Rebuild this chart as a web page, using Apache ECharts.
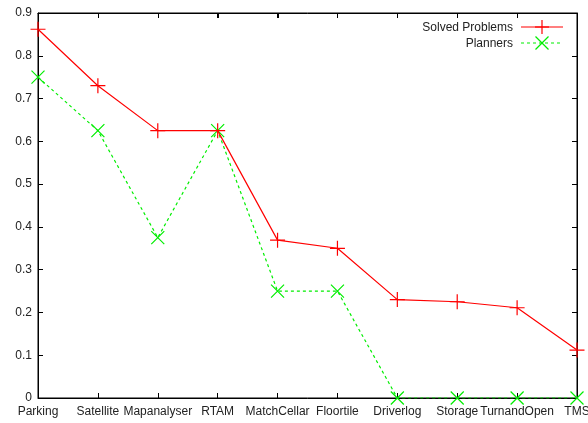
<!DOCTYPE html>
<html><head><meta charset="utf-8">
<script src="https://cdn.jsdelivr.net/npm/echarts@6/dist/echarts.min.js"></script>
<style>html,body{margin:0;padding:0;background:#fff}#c{width:588px;height:423px}</style>
</head><body><div id="c"></div>
<script>
const categories = ["Parking","Satellite","Mapanalyser","RTAM","MatchCellar","Floortile","Driverlog","Storage","TurnandOpen","TMS"];
const solvedProblems = [0.862, 0.73, 0.625, 0.625, 0.369, 0.35, 0.23, 0.225, 0.211, 0.112];
const planners = [0.75, 0.625, 0.375, 0.625, 0.25, 0.25, 0, 0, 0, 0];
const seriesNames = ["Solved Problems", "Planners"];

const RED = '#ff0000', GREEN = '#00ee00';
const plusPath = 'path://M0,-1L0,1M-1,0L1,0';
const crossPath = 'path://M-1,-1L1,1M-1,1L1,-1';
const font = 'Liberation Sans, Arial, sans-serif';

const chart = echarts.init(document.getElementById('c'));
function xAx(pos, showLabel) {
  return {
    type: 'category', data: categories, boundaryGap: false, position: pos,
    axisLine: {show: true, onZero: false, lineStyle: {color: '#000', width: 1}},
    axisTick: {show: true, inside: true, length: 5, interval: 0, lineStyle: {color: '#000'}},
    axisLabel: {color: showLabel ? '#222' : 'rgba(0,0,0,0)', fontSize: 12, fontFamily: font, margin: 8, interval: 0, hideOverlap: false},
    splitLine: {show: false}
  };
}
function yAx(pos, showLabel) {
  return {
    type: 'value', min: 0, max: 0.9, interval: 0.1, position: pos,
    axisLine: {show: true, onZero: false, lineStyle: {color: '#000', width: 1}},
    axisTick: {show: true, inside: true, length: 5, lineStyle: {color: '#000'}},
    axisLabel: {color: showLabel ? '#222' : 'rgba(0,0,0,0)', fontSize: 12, fontFamily: font, margin: 6, formatter: v => String(+v.toFixed(1))},
    splitLine: {show: false}
  };
}
const legendGraphics = [
  {type: 'text', right: 75, top: 22, style: {text: seriesNames[0], fill: '#222', font: '12px ' + font}},
  {type: 'line', shape: {x1: 521, y1: 27, x2: 563, y2: 27}, style: {stroke: RED, lineWidth: 1.2}},
  {type: 'line', shape: {x1: 542, y1: 20, x2: 542, y2: 34}, style: {stroke: RED, lineWidth: 1.2}},
  {type: 'line', shape: {x1: 535, y1: 27, x2: 549, y2: 27}, style: {stroke: RED, lineWidth: 1.2}},
  {type: 'text', right: 75, top: 38, style: {text: seriesNames[1], fill: '#222', font: '12px ' + font}},
  {type: 'line', shape: {x1: 521, y1: 43, x2: 563, y2: 43}, style: {stroke: GREEN, lineWidth: 1.2, lineDash: [3, 3]}},
  {type: 'line', shape: {x1: 535.5, y1: 36.5, x2: 548.5, y2: 49.5}, style: {stroke: GREEN, lineWidth: 1.2}},
  {type: 'line', shape: {x1: 535.5, y1: 49.5, x2: 548.5, y2: 36.5}, style: {stroke: GREEN, lineWidth: 1.2}}
];
chart.setOption({
  animation: false,
  grid: {left: 38, right: 11, top: 13, bottom: 25, outerBoundsMode: 'none', containLabel: false,
         show: true, borderColor: '#000', borderWidth: 1, backgroundColor: 'transparent'},
  xAxis: [xAx('bottom', true), xAx('top', false)],
  yAxis: [yAx('left', true), yAx('right', false)],
  series: [
    {name: seriesNames[0], type: 'line', data: solvedProblems, symbol: plusPath, symbolSize: 15,
     showAllSymbol: true, xAxisIndex: 0, yAxisIndex: 0,
     lineStyle: {color: RED, width: 1.2},
     itemStyle: {color: RED, borderColor: RED, borderWidth: 1.2}, z: 3},
    {name: seriesNames[1], type: 'line', data: planners, symbol: crossPath, symbolSize: 13,
     showAllSymbol: true, xAxisIndex: 1, yAxisIndex: 1,
     lineStyle: {color: GREEN, width: 1.2, type: [3, 3]},
     itemStyle: {color: GREEN, borderColor: GREEN, borderWidth: 1.2}, z: 2}
  ],
  graphic: legendGraphics
});
// top-edge inward ticks, positioned through the axis scale
const topY = chart.convertToPixel({yAxisIndex: 0}, 0.9);
const topTicks = categories.map(c => {
  const x = Math.round(chart.convertToPixel({xAxisIndex: 0}, c)) + 0.5;
  return {type: 'line', shape: {x1: x, y1: topY, x2: x, y2: topY + 5}, style: {stroke: '#000', lineWidth: 1}};
});
chart.setOption({graphic: legendGraphics.concat(topTicks)});
</script></body></html>
